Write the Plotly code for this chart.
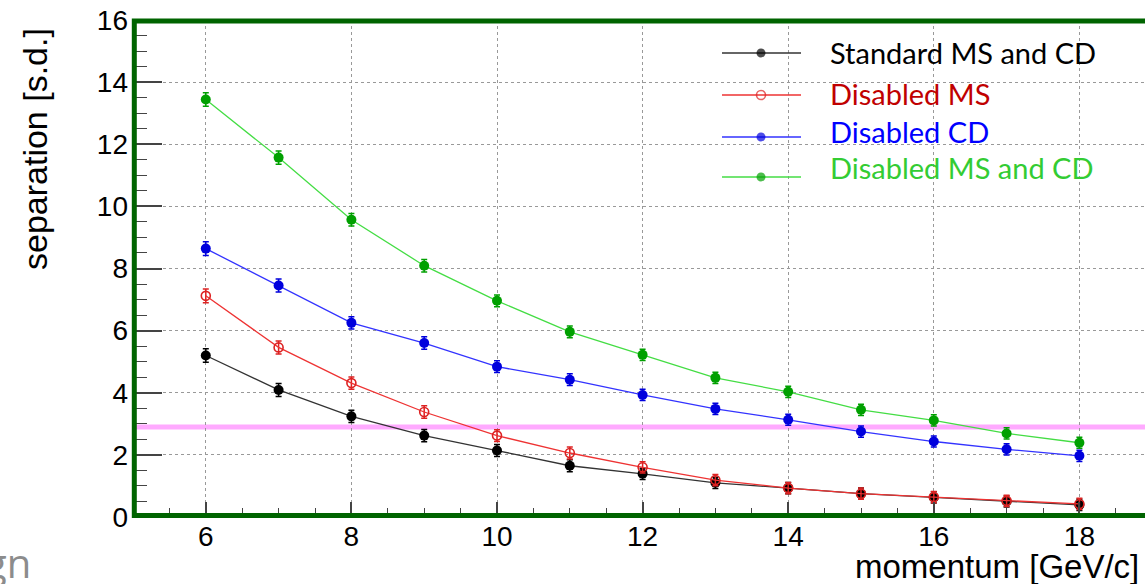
import plotly.graph_objects as go

momentum = [6, 7, 8, 9, 10, 11, 12, 13, 14, 15, 16, 17, 18]
standard = [5.20, 4.09, 3.24, 2.62, 2.14, 1.65, 1.39, 1.10, 0.93, 0.75, 0.63, 0.50, 0.39]
disabled_ms = [7.12, 5.46, 4.31, 3.38, 2.62, 2.06, 1.60, 1.19, 0.93, 0.75, 0.64, 0.52, 0.42]
disabled_cd = [8.64, 7.45, 6.25, 5.60, 4.84, 4.42, 3.93, 3.48, 3.13, 2.75, 2.43, 2.18, 1.97]
disabled_both = [13.44, 11.57, 9.57, 8.09, 6.96, 5.96, 5.22, 4.48, 4.03, 3.45, 3.11, 2.69, 2.39]
err = [0.22, 0.21, 0.20, 0.20, 0.19, 0.19, 0.18, 0.18, 0.18, 0.18, 0.18, 0.18, 0.18]
threshold = 2.9

series_names = ["Standard MS and CD", "Disabled MS", "Disabled CD", "Disabled MS and CD"]
series_vals = [standard, disabled_ms, disabled_cd, disabled_both]
marker_cols = ["#000000", "#dd2222", "#0000dd", "#00a000"]
line_cols = ["#333333", "#ee3333", "#3333ff", "#44dd44"]
text_cols = ["#000000", "#c00000", "#0000ff", "#33cc33"]
symbols = ["circle", "circle-open", "circle", "circle"]

# figure geometry (pixels)
W, H = 1145, 584
L, T, B = 133, 20, 67
PW, PH = W - L, H - T - B


def px(x):
    return (x - L) / PW


def py(y):
    return (H - B - y) / PH


fig = go.Figure()

for name, vals, mc, lc, sym in zip(series_names, series_vals, marker_cols, line_cols, symbols):
    fig.add_trace(go.Scatter(
        x=momentum, y=vals, name=name, mode="lines+markers",
        line=dict(color=lc, width=1.3),
        marker=dict(color=mc, size=10 if sym == "circle" else 9, symbol=sym,
                    line=dict(color=mc, width=1.6 if sym != "circle" else 0)),
        error_y=dict(type="data", array=err, visible=True, color=mc, thickness=1.5, width=3),
        showlegend=False, xaxis="x", yaxis="y",
    ))

# custom legend (lines + markers) on an overlay axis in paper-like units
leg_rows = [53, 95, 137, 177]
txt_rows = [53, 94, 131, 168]
for i, name in enumerate(series_names):
    fig.add_trace(go.Scatter(
        x=[px(722), px(761), px(801)], y=[py(leg_rows[i])] * 3,
        mode="lines+markers", line=dict(color=line_cols[i], width=1.3),
        marker=dict(color=marker_cols[i], size=[0, 9, 0], symbol=symbols[i],
                    line=dict(color=marker_cols[i], width=1.6 if symbols[i] != "circle" else 0)),
        xaxis="x2", yaxis="y2", showlegend=False, hoverinfo="skip",
    ))
    fig.add_annotation(x=px(828), y=py(txt_rows[i]), xref="paper", yref="paper",
                       text=name, showarrow=False, xanchor="left", yanchor="middle",
                       font=dict(family="Lato", size=29, color=text_cols[i]))

shapes = [
    dict(type="line", xref="paper", yref="y", x0=0, x1=1, y0=threshold, y1=threshold,
         line=dict(color="#ffaaff", width=5), layer="between"),
    dict(type="rect", xref="paper", yref="paper", x0=px(810), x1=px(1117), y0=py(188), y1=py(33),
         fillcolor="white", line=dict(width=0), layer="between"),
    dict(type="rect", xref="paper", yref="paper", x0=px(134.3), x1=1.02, y0=py(515.5), y1=py(21),
         line=dict(color="#006400", width=5), fillcolor="rgba(0,0,0,0)", layer="above"),
]

fig.add_annotation(x=px(35), y=py(149), xref="paper", yref="paper", text="separation [s.d.]",
                   showarrow=False, textangle=-90, xanchor="center", yanchor="middle",
                   font=dict(family="Liberation Sans", size=34, color="black"))
fig.add_annotation(x=px(1141), y=py(566), xref="paper", yref="paper", text="momentum [GeV/c]",
                   showarrow=False, xanchor="right", yanchor="middle",
                   font=dict(family="Liberation Sans", size=33, color="black"))
fig.add_annotation(x=px(33), y=py(562), xref="paper", yref="paper", text="gn",
                   showarrow=False, xanchor="right", yanchor="middle",
                   font=dict(family="Open Sans", size=40, color="#8c8c8c"))

fig.update_layout(
    width=W, height=H,
    margin=dict(l=L, r=0, t=T, b=B, pad=0),
    paper_bgcolor="white", plot_bgcolor="white",
    shapes=shapes,
    xaxis=dict(range=[5, 5 + PW / 72.8], tickvals=[6, 8, 10, 12, 14, 16, 18],
               ticks="inside", ticklen=15, tickwidth=1.5, tickcolor="#444",
               minor=dict(dtick=0.5, tick0=5, ticks="inside", ticklen=9, tickwidth=1.2, tickcolor="#444",
                          showgrid=False),
               showgrid=True, gridcolor="#999", griddash="dot", gridwidth=1,
               zeroline=False, showline=False, ticklabelstandoff=0,
               tickfont=dict(family="Liberation Sans", size=28, color="black")),
    yaxis=dict(range=[0, 16], tickvals=[0, 2, 4, 6, 8, 10, 12, 14, 16],
               ticks="inside", ticklen=29, tickwidth=1.5, tickcolor="#444",
               minor=dict(dtick=0.5, tick0=0, ticks="inside", ticklen=14, tickwidth=1.2, tickcolor="#444",
                          showgrid=False),
               showgrid=True, gridcolor="#999", griddash="dot", gridwidth=1,
               zeroline=False, showline=False, ticklabelstandoff=4,
               tickfont=dict(family="Liberation Sans", size=28, color="black")),
    xaxis2=dict(range=[0, 1], overlaying="x", visible=False, anchor="y2"),
    yaxis2=dict(range=[0, 1], overlaying="y", visible=False, anchor="x2"),
)

fig.write_html("out.html")
